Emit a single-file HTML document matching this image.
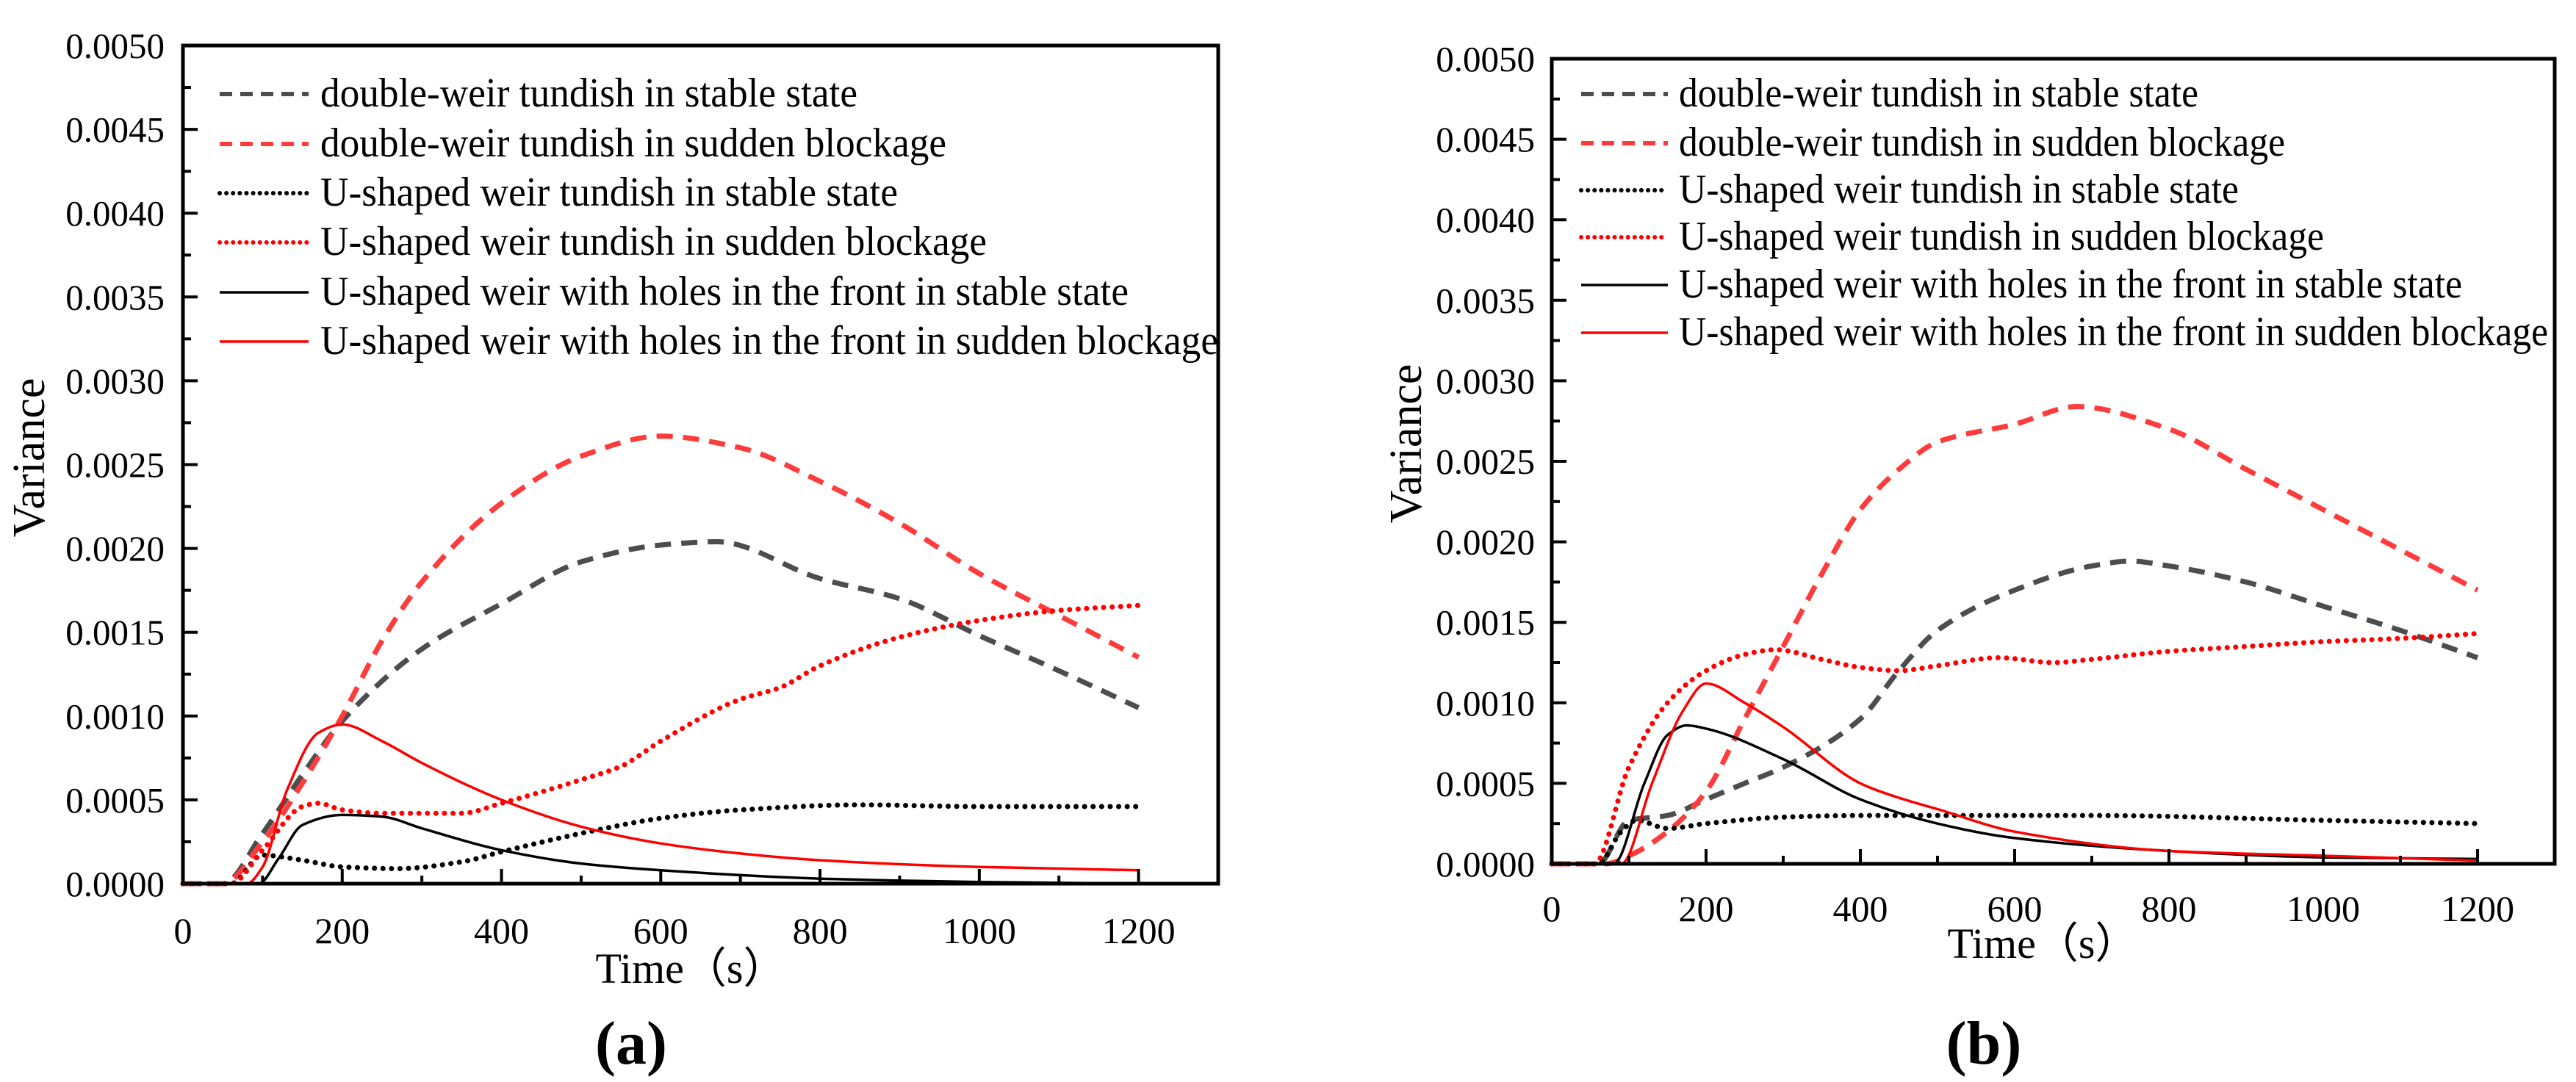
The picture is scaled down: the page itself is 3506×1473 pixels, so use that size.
<!DOCTYPE html>
<html><head><meta charset="utf-8"><style>
html,body{margin:0;padding:0;background:#fff}
svg{display:block}
text{font-family:"Liberation Serif",serif;fill:#000}
</style></head><body>
<svg id="fig" width="3506" height="1473" viewBox="0 0 3506 1473"></svg>
<script>
// ---- data (time in s, variance in units of 0.001) ----
const legendLabels = ["double-weir tundish in stable state","double-weir tundish in sudden blockage","U-shaped weir tundish in stable state","U-shaped weir tundish in sudden blockage","U-shaped weir with holes in the front in stable state","U-shaped weir with holes in the front in sudden blockage"];
const xTicks = [0,200,400,600,800,1000,1200];
const yTicks = [0,0.5,1,1.5,2,2.5,3,3.5,4,4.5,5];
const yTickLabels = ["0.0000","0.0005","0.0010","0.0015","0.0020","0.0025","0.0030","0.0035","0.0040","0.0045","0.0050"];

const aT1=[0,50,100,150,200,300,400,500,600,670,800,900,1000,1100,1200];
const aV1=[0,0,0.3,0.65,0.97,1.4,1.67,1.92,2.02,2.04,1.82,1.7,1.48,1.27,1.05];
const aT2=[0,50,100,150,200,250,300,400,500,600,700,800,900,1000,1100,1200];
const aV2=[0,0,0.25,0.6,1.0,1.45,1.8,2.27,2.55,2.67,2.6,2.4,2.15,1.85,1.6,1.35];
const aT3=[0,60,100,150,200,270,350,400,500,600,700,850,1000,1200];
const aV3=[0,0,0.17,0.14,0.1,0.09,0.13,0.19,0.3,0.39,0.44,0.47,0.46,0.46];
const aT4=[0,60,100,150,170,200,250,350,400,500,550,600,700,750,800,900,1000,1100,1200];
const aV4=[0,0,0.2,0.46,0.48,0.44,0.42,0.42,0.48,0.62,0.7,0.85,1.1,1.17,1.3,1.47,1.57,1.63,1.66];
const aT5=[0,95,120,150,200,250,300,400,500,600,800,1000,1200];
const aV5=[0,0,0.15,0.35,0.41,0.4,0.33,0.2,0.12,0.08,0.03,0.01,0.0];
const aT6=[0,80,100,130,170,200,250,300,400,500,600,700,800,1000,1200];
const aV6=[0,0,0.1,0.55,0.9,0.95,0.85,0.72,0.5,0.34,0.24,0.18,0.14,0.1,0.08];

const bT1=[0,60,100,150,200,250,300,400,450,500,600,700,750,800,900,1000,1100,1200];
const bV1=[0,0,0.27,0.3,0.4,0.5,0.6,0.9,1.2,1.45,1.7,1.85,1.88,1.85,1.75,1.6,1.45,1.28];
const bT2=[0,70,100,150,200,250,300,350,400,450,500,600,680,800,900,1000,1100,1200];
const bV2=[0,0,0.05,0.2,0.45,0.9,1.35,1.8,2.2,2.45,2.62,2.73,2.84,2.7,2.45,2.2,1.95,1.7];
const bT3=[0,60,90,110,150,200,300,400,700,1000,1200];
const bV3=[0,0,0.2,0.27,0.22,0.25,0.29,0.3,0.3,0.27,0.25];
const bT4=[0,55,100,150,200,250,290,350,400,450,500,580,650,700,800,900,1000,1100,1200];
const bV4=[0,0,0.6,1.0,1.2,1.3,1.33,1.27,1.22,1.2,1.23,1.28,1.25,1.27,1.32,1.35,1.38,1.4,1.43];
const bT5=[0,80,120,150,175,200,300,400,500,600,800,1000,1200];
const bV5=[0,0,0.5,0.8,0.86,0.84,0.65,0.4,0.25,0.16,0.08,0.04,0.03];
const bT6=[0,90,130,170,200,250,300,400,450,500,600,800,1000,1200];
const bV6=[0,0,0.5,0.95,1.12,1.0,0.85,0.5,0.41,0.34,0.2,0.08,0.05,0.02];

const NS="http://www.w3.org/2000/svg";
const svg=document.getElementById('fig');
function mk(tag,attrs,parent){const e=document.createElementNS(NS,tag);for(const k in attrs)e.setAttribute(k,attrs[k]);(parent||svg).appendChild(e);return e;}

const styles=[
 {stroke:"#4d4d4d",w:7,dash:"22 14",cap:"butt"},
 {stroke:"#ff3b3b",w:7,dash:"22 14",cap:"butt"},
 {stroke:"#000",w:7,dash:"0.1 11.5",cap:"round"},
 {stroke:"#ff0000",w:7,dash:"0.1 11.5",cap:"round"},
 {stroke:"#000",w:3.5,dash:"none",cap:"butt"},
 {stroke:"#ff0000",w:3.5,dash:"none",cap:"butt"}];

// monotone cubic (Fritsch-Carlson) path, no overshoot
function pathFrom(pts){
 const n=pts.length;const dx=[],dy=[],m=[];
 for(let i=0;i<n-1;i++){dx.push(pts[i+1][0]-pts[i][0]);dy.push(pts[i+1][1]-pts[i][1]);m.push(dy[i]/dx[i]);}
 const t=new Array(n);
 t[0]=m[0];t[n-1]=m[n-2];
 for(let i=1;i<n-1;i++){
  if(m[i-1]*m[i]<=0)t[i]=0;
  else{const w1=2*dx[i]+dx[i-1],w2=dx[i]+2*dx[i-1];t[i]=(w1+w2)/(w1/m[i-1]+w2/m[i]);}
 }
 let d="M"+pts[0][0].toFixed(1)+","+pts[0][1].toFixed(1);
 for(let i=0;i<n-1;i++){
  const h=dx[i]/3;
  d+=" C"+(pts[i][0]+h).toFixed(1)+","+(pts[i][1]+t[i]*h).toFixed(1)+" "+(pts[i+1][0]-h).toFixed(1)+","+(pts[i+1][1]-t[i+1]*h).toFixed(1)+" "+pts[i+1][0].toFixed(1)+","+pts[i+1][1].toFixed(1);
 }
 return d;
}

function chart(cfg){
 const g=mk('g',{});
 
 
 const X=t=>cfg.x0+(t/1300)*(cfg.x1-cfg.x0);
 const Y=v=>cfg.y0-(v/5)*(cfg.y0-cfg.y1);
 cfg.series.forEach((s,i)=>{
  const pts=s[0].map((t,j)=>[X(t),Y(s[1][j])]);
  const st=styles[i];
  const p=mk('path',{d:pathFrom(pts),fill:"none",stroke:st.stroke,"stroke-width":st.w,"stroke-dasharray":st.dash,"stroke-linecap":st.cap,"stroke-linejoin":"round"},g);
  
  
 });
 const fr=mk('rect',{x:cfg.x0,y:cfg.y1,width:cfg.x1-cfg.x0,height:cfg.y0-cfg.y1,fill:"none",stroke:"#000","stroke-width":5},g);
 
 
 for(let t=100;t<=1200;t+=100){
  const len=(t%200===0)?20:11;
  mk('line',{x1:X(t),x2:X(t),y1:cfg.y0,y2:cfg.y0-len,stroke:"#000","stroke-width":4},g);
 }
 xTicks.forEach(t=>{
  const tx=mk('text',{x:X(t),y:cfg.xlabY,"font-size":50,"text-anchor":"middle"},g);
  tx.textContent=String(t);
  
  
 });
 for(let k=1;k<20;k++){
  const v=k*0.25;const len=(k%2===0)?20:11;
  mk('line',{x1:cfg.x0,x2:cfg.x0+len,y1:Y(v),y2:Y(v),stroke:"#000","stroke-width":4},g);
 }
 yTicks.forEach((v,i)=>{
  const tx=mk('text',{x:cfg.ylabX,y:Y(v)+17,"font-size":49,"text-anchor":"end"},g);
  tx.textContent=yTickLabels[i];
  
  
 });
 const yt=mk('text',{x:0,y:0,"font-size":62,"text-anchor":"middle",transform:`translate(${cfg.ytX},${cfg.ytY}) rotate(-90)`},g);
 yt.textContent="Variance";
 
 
 const xt=mk('text',{x:cfg.xtX,y:cfg.xtY,"font-size":58,"text-anchor":"middle"},g);
 xt.textContent="Time（s）";
 
 
 cfg.legRows.forEach((ry,i)=>{
  const st=styles[i];
  const ln=mk('line',{x1:cfg.legX0,x2:cfg.legX1,y1:ry,y2:ry,stroke:st.stroke,"stroke-width":st.w===7?6:3.5,"stroke-dasharray":st.dash==="none"?"none":(st.cap==="round"?"0.1 9":"17 11"),"stroke-linecap":st.cap},g);
  
  
  const tx=mk('text',{x:cfg.legTX,y:ry+17,"font-size":56,textLength:cfg.legEnds[i]-cfg.legTX,lengthAdjust:"spacingAndGlyphs"},g);
  tx.textContent=legendLabels[i];
  
  
 });
 const pl=mk('text',{x:cfg.plX,y:cfg.plY,"font-size":84,"text-anchor":"middle","font-weight":"bold"},g);
 pl.textContent=cfg.panel;
 
 
}

chart({name:'chart-a',x0:249,x1:1658,y0:1203,y1:62,ylabX:224,xlabY:1284,ytX:60,ytY:623,xtX:940,xtY:1338,
 legX0:299,legX1:420,legTX:436,legRows:[128,196,263,330,398,465],legEnds:[1167,1288,1222,1343,1536,1658],
 plX:859,plY:1448,panel:"(a)",
 series:[[aT1,aV1],[aT2,aV2],[aT3,aV3],[aT4,aV4],[aT5,aV5],[aT6,aV6]]});
chart({name:'chart-b',x0:2112,x1:3477,y0:1176,y1:80,ylabX:2089,xlabY:1254,ytX:1934,ytY:604,xtX:2780,xtY:1304,
 legX0:2152,legX1:2270,legTX:2285,legRows:[128,195,259,323,388,453],legEnds:[2992,3110,3047,3163,3351,3468],
 plX:2700,plY:1448,panel:"(b)",
 series:[[bT1,bV1],[bT2,bV2],[bT3,bV3],[bT4,bV4],[bT5,bV5],[bT6,bV6]]});
</script>
</body></html>
